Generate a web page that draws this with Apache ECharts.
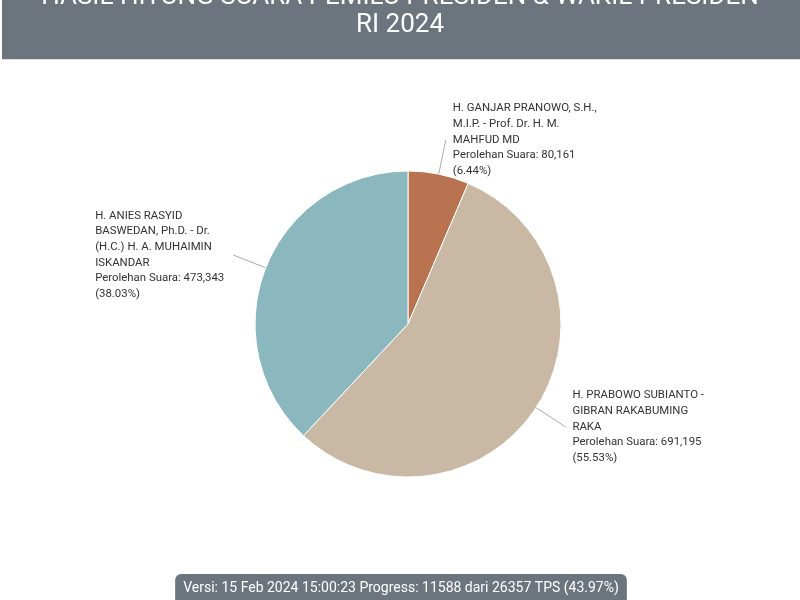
<!DOCTYPE html>
<html>
<head>
<meta charset="utf-8">
<script src="https://cdn.jsdelivr.net/npm/echarts@6/dist/echarts.min.js"></script>
<style>
    html, body { margin: 0; padding: 0; background: #fff; }
    #chart { width: 800px; height: 600px; }
</style>
</head>
<body>
<div id="chart"></div>
<script>
// paslon, urut searah jarum jam dari atas
const candidates = [
    'H. GANJAR PRANOWO, S.H.,\nM.I.P. - Prof. Dr. H. M.\nMAHFUD MD',
    'H. PRABOWO SUBIANTO -\nGIBRAN RAKABUMING\nRAKA',
    'H. ANIES RASYID\nBASWEDAN, Ph.D. - Dr.\n(H.C.) H. A. MUHAIMIN\nISKANDAR'
];
const votes = [80161, 691195, 473343];
const sliceColors = ['#b8724f', '#c9b8a3', '#8ab8be'];

const titleText = 'HASIL HITUNG SUARA PEMILU PRESIDEN & WAKIL PRESIDEN\nRI 2024';
const footerText = 'Versi: 15 Feb 2024 15:00:23 Progress: 11588 dari 26357 TPS (43.97%)';

const total = votes.reduce((a, b) => a + b, 0);

// label di sisi kiri pie? (sudut tengah slice lewat setengah lingkaran)
function isLeftSide(idx) {
    let before = 0;
    for (let i = 0; i < idx; i++) before += votes[i];
    return (before + votes[idx] / 2) / total > 0.5;
}

const chart = echarts.init(document.getElementById('chart'));

const option = {
    animation: false,
    title: {
        text: titleText,
        left: 'center',
        top: -17,
        padding: 0,
        textStyle: {
            color: '#fff',
            fontFamily: 'Roboto',
            fontSize: 26,
            fontWeight: 'normal',
            lineHeight: 28
        }
    },
    graphic: [
        {
            type: 'rect',
            z: -10,
            shape: { x: 2, y: 0, width: 798, height: 59 },
            style: { fill: '#6c757d' }
        },
        {
            type: 'line',
            z: -10,
            shape: { x1: 2, y1: 59.5, x2: 800, y2: 59.5 },
            style: { stroke: '#dcdfe2', lineWidth: 1 }
        },
        {
            type: 'text',
            x: 401,
            y: 574,
            style: {
                text: footerText,
                align: 'center',
                verticalAlign: 'top',
                font: '14px Roboto',
                fill: '#fff',
                backgroundColor: '#6c757d',
                padding: [6, 8, 12, 8],
                borderRadius: 6,
                lineHeight: 16
            }
        }
    ],
    series: [{
        type: 'pie',
        center: [408, 324],
        radius: 153,
        startAngle: 90,
        clockwise: true,
        emphasis: { disabled: true },
        itemStyle: { borderColor: '#fff', borderWidth: 1 },
        label: {
            show: true,
            position: 'outside',
            fontFamily: 'Roboto',
            fontSize: 11.4,
            color: '#333',
            lineHeight: 15.6,
            distanceToLabelLine: 7,
            formatter: function (p) {
                const lines = p.name.split('\n').concat([
                    'Perolehan Suara: ' + p.value.toLocaleString('en-US'),
                    '(' + p.percent.toFixed(2) + '%)'
                ]);
                if (isLeftSide(p.dataIndex)) {
                    return lines.map(l => '{l|' + l + '}').join('\n');
                }
                return lines.join('\n');
            },
            rich: {
                l: {
                    width: 131,
                    align: 'left',
                    fontFamily: 'Roboto',
                    fontSize: 11.4,
                    color: '#333',
                    lineHeight: 15.6
                }
            }
        },
        labelLine: {
            show: true,
            length: 35,
            length2: 0,
            lineStyle: { color: '#a9a9a9', width: 1 }
        },
        data: candidates.map((name, i) => ({
            name: name,
            value: votes[i],
            itemStyle: { color: sliceColors[i] }
        }))
    }]
};

chart.setOption(option);
</script>
</body>
</html>
